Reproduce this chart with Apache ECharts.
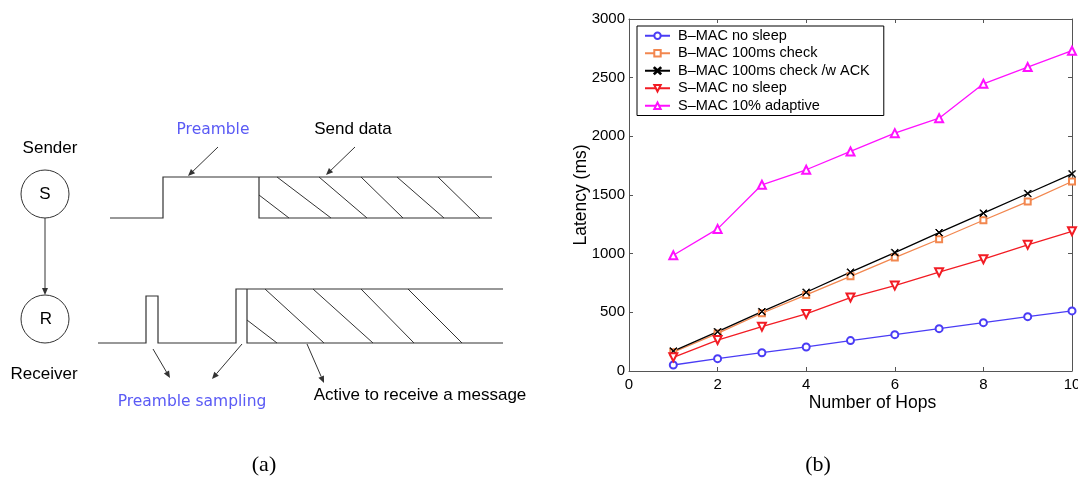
<!DOCTYPE html>
<html>
<head>
<meta charset="utf-8">
<script src="https://cdn.jsdelivr.net/npm/echarts@6/dist/echarts.min.js"></script>
<style>
html,body{margin:0;padding:0;background:#fff;}
#main{width:1078px;height:477px;}
</style>
</head>
<body>
<div id="main"></div>
<script>
// ---- data ----
const hops = [1, 2, 3, 4, 5, 6, 7, 8, 9, 10];
const seriesNames = ['B\u2013MAC no sleep', 'B\u2013MAC 100ms check', 'B\u2013MAC 100ms check /w ACK', 'S\u2013MAC no sleep', 'S\u2013MAC 10% adaptive'];
const bmacNoSleep = [51, 105, 156, 205, 259, 310, 361, 412, 463, 512];
const bmac100Check = [160, 320, 492, 648, 807, 967, 1123, 1285, 1444, 1615];
const bmac100Ack = [170, 335, 506, 671, 842, 1009, 1180, 1345, 1513, 1680];
const smacNoSleep = [117, 264, 378, 486, 626, 728, 842, 953, 1075, 1191];
const smacAdaptive = [987, 1211, 1587, 1715, 1871, 2027, 2155, 2448, 2590, 2730];
const xRange = [0, 10], xStep = 2;
const yRange = [0, 3000], yStep = 500;
const xTitle = 'Number of Hops';
const yTitle = 'Latency (ms)';

// ---- diagram (a) labels ----
const diagramTexts = {
  sender: 'Sender', receiver: 'Receiver', s: 'S', r: 'R',
  preamble: 'Preamble', sendData: 'Send data',
  sampling: 'Preamble sampling', active: 'Active to receive a message',
  capA: '(a)', capB: '(b)'
};

const FONT = '"Liberation Sans", Arial, Helvetica, sans-serif';
const STROKE = '#333';

function pts(list) { return list.map(p => [p[0], p[1]]); }
function seg(x1, y1, x2, y2, w) {
  return { type: 'line', silent: true, shape: { x1, y1, x2, y2 }, style: { stroke: STROKE, lineWidth: w || 1.1 } };
}
function poly(points) {
  return { type: 'polyline', silent: true, shape: { points: pts(points) }, style: { stroke: STROKE, lineWidth: 1.2, fill: null } };
}
function arrow(x1, y1, x2, y2) {
  const dx = x2 - x1, dy = y2 - y1, L = Math.sqrt(dx * dx + dy * dy);
  const ux = dx / L, uy = dy / L, hl = 7, hw = 3;
  const bx = x2 - ux * hl, by = y2 - uy * hl;
  return [
    seg(x1, y1, bx, by, 1),
    { type: 'polygon', silent: true, shape: { points: [[x2, y2], [bx - uy * hw, by + ux * hw], [bx + uy * hw, by - ux * hw]] }, style: { fill: STROKE } }
  ];
}
function txt(t, x, y, size, color, family) {
  return { type: 'text', silent: true, x, y, style: { text: t, fill: color || '#000', font: size + 'px ' + (family || FONT), textAlign: 'center', textVerticalAlign: 'middle' } };
}

const BLUE = '#5a5af5';
const BLUEFONT = '"DejaVu Sans", sans-serif';
let g = [];
// nodes
g.push({ type: 'circle', silent: true, shape: { cx: 45, cy: 194, r: 24 }, style: { stroke: STROKE, fill: '#fff', lineWidth: 1 } });
g.push({ type: 'circle', silent: true, shape: { cx: 45, cy: 319, r: 24 }, style: { stroke: STROKE, fill: '#fff', lineWidth: 1 } });
g = g.concat(arrow(45, 218, 45, 295));
g.push(txt(diagramTexts.s, 45, 194, 17));
g.push(txt(diagramTexts.r, 46, 319, 17));
g.push(txt(diagramTexts.sender, 50, 148, 17));
g.push(txt(diagramTexts.receiver, 44, 374, 17));
// sender waveform
g.push(poly([[110, 218], [163, 218], [163, 177], [492, 177]]));
g.push(poly([[259, 177], [259, 218], [492, 218]]));
[[259, 195, 289, 218], [277, 177, 331, 218], [319, 177, 367, 218], [361, 177, 403, 218], [397, 177, 444, 218], [438, 177, 480, 218]]
  .forEach(l => g.push(seg(l[0], l[1], l[2], l[3], 1)));
// receiver waveform
g.push(poly([[98, 343], [146, 343], [146, 296], [158, 296], [158, 343], [236, 343], [236, 289], [503, 289]]));
g.push(poly([[247, 289], [247, 343], [503, 343]]));
[[247, 320, 277, 343], [265, 289, 324, 343], [313, 289, 373, 343], [361, 289, 414, 343], [408, 289, 462, 343]]
  .forEach(l => g.push(seg(l[0], l[1], l[2], l[3], 1)));
// annotations
g = g.concat(arrow(218, 147, 188, 176));
g = g.concat(arrow(355, 147, 326, 175));
g = g.concat(arrow(153, 349, 170, 378));
g = g.concat(arrow(242, 344, 212, 379));
g = g.concat(arrow(307, 344, 324, 383));
g.push(txt(diagramTexts.preamble, 213, 130, 15.5, BLUE, BLUEFONT));
g.push(txt(diagramTexts.sampling, 192, 402, 15.5, BLUE, BLUEFONT));
g.push(txt(diagramTexts.sendData, 353, 129, 17));
g.push(txt(diagramTexts.active, 420, 395, 17));
g.push(txt(diagramTexts.capA, 264, 465, 22, '#000', '"Liberation Serif", "DejaVu Serif", serif'));
g.push(txt(diagramTexts.capB, 818, 465, 22, '#000', '"Liberation Serif", "DejaVu Serif", serif'));

const xMarker = 'path://M0,0.7L0.7,0L5,4.3L9.3,0L10,0.7L5.7,5L10,9.3L9.3,10L5,5.7L0.7,10L0,9.3L4.3,5Z';
function mk(name, data, color, symbol, size, rotate) {
  return {
    name, type: 'line', data: hops.map((h, i) => [h, data[i]]),
    symbol, symbolSize: size, symbolRotate: rotate || 0, showSymbol: true,
    lineStyle: { color, width: 1.3 },
    itemStyle: { color, borderColor: color, borderWidth: 1 },
    emphasis: { disabled: true }, animation: false, z: 3
  };
}

const axisCommon = {
  type: 'value', splitLine: { show: false },
  axisLine: { show: true, onZero: false, lineStyle: { color: '#555', width: 1 } },
  axisTick: { show: true, inside: true, length: 4, lineStyle: { color: '#555' } }
};

const option = {
  backgroundColor: '#fff',
  animation: false,
  textStyle: { fontFamily: FONT },
  grid: { left: 629, right: 6, top: 19, bottom: 106, containLabel: false, outerBoundsMode: 'none' },
  legend: {
    orient: 'vertical', left: 637, top: 26,
    borderColor: '#000', borderWidth: 1, padding: [1, 14, 1, 7],
    backgroundColor: '#fff',
    itemWidth: 25, itemHeight: 8, itemGap: 0,
    textStyle: { fontSize: 14.5, color: '#000', lineHeight: 17.5, padding: [0, 0, 0, 3], fontFamily: FONT },
    data: seriesNames, selectedMode: false
  },
  xAxis: [
    Object.assign({}, axisCommon, {
      min: xRange[0], max: xRange[1], interval: xStep, position: 'bottom',
      axisLabel: { fontSize: 15, color: '#000', margin: 6, fontFamily: FONT, formatter: v => String(v) },
      name: xTitle, nameLocation: 'middle', nameGap: 23, nameMoveOverlap: false,
      nameTextStyle: { fontSize: 17.5, color: '#000', padding: [0, 0, 0, 44], fontFamily: FONT }
    }),
    Object.assign({}, axisCommon, {
      min: xRange[0], max: xRange[1], interval: xStep, position: 'top',
      axisLabel: { show: false }
    })
  ],
  yAxis: [
    Object.assign({}, axisCommon, {
      min: yRange[0], max: yRange[1], interval: yStep, position: 'left',
      axisLabel: { fontSize: 15, color: '#000', margin: 4, fontFamily: FONT, formatter: v => String(v) },
      name: yTitle, nameLocation: 'middle', nameGap: 39, nameRotate: 90, nameMoveOverlap: false,
      nameTextStyle: { fontSize: 17.5, color: '#000', fontFamily: FONT }
    }),
    Object.assign({}, axisCommon, {
      min: yRange[0], max: yRange[1], interval: yStep, position: 'right',
      axisLabel: { show: false }
    })
  ],
  series: [
    mk(seriesNames[0], bmacNoSleep, '#4a3cf5', 'emptyCircle', 7),
    mk(seriesNames[1], bmac100Check, '#f2874f', 'emptyRect', 6),
    mk(seriesNames[2], bmac100Ack, '#000000', xMarker, 7),
    mk(seriesNames[3], smacNoSleep, '#f21c24', 'emptyTriangle', 8, 180),
    mk(seriesNames[4], smacAdaptive, '#ff10ff', 'emptyTriangle', 8)
  ],
  graphic: { elements: g }
};

const chart = echarts.init(document.getElementById('main'), null, { renderer: 'canvas' });
chart.setOption(option);
</script>
</body>
</html>
